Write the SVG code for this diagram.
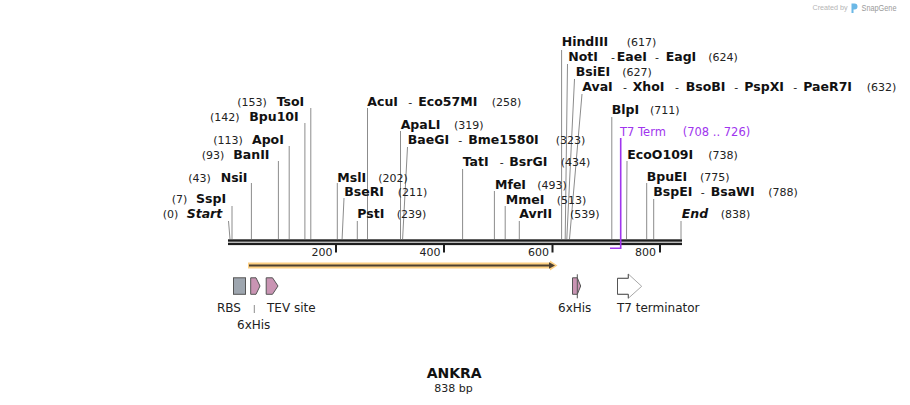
<svg xmlns="http://www.w3.org/2000/svg" width="910" height="405" viewBox="0 0 910 405">
<style>
  .site{stroke:#8c8c8c;stroke-width:1;fill:none}
  .en{font-family:"DejaVu Sans",Verdana,sans-serif;font-weight:bold;font-size:12.5px;fill:#111}
  .ei{font-family:"DejaVu Sans",Verdana,sans-serif;font-weight:bold;font-style:italic;font-size:12.5px;fill:#111}
  .num{font-family:"DejaVu Sans",Verdana,sans-serif;font-size:11px;fill:#222}
  .tick{font-family:"DejaVu Sans",Verdana,sans-serif;font-size:11px;fill:#222;text-anchor:end}
  .flab{font-family:"DejaVu Sans",Verdana,sans-serif;font-size:12px;fill:#222}
  .feat{stroke:#555;stroke-width:1}
  .pink{fill:#c994b3}
</style>
<rect width="910" height="405" fill="#fff"/>

<!-- watermark -->
<g id="watermark">
  <text x="812.5" y="10" font-family="Liberation Sans, Arial, sans-serif" font-size="7.2" fill="#b5b5b5">Created by</text>
  <path d="M851.5,3.5 h3 a3,3 0 0 1 0,6 h-1 v3.5 h-2 z" fill="#6bb8e6"/>
  <text x="861.5" y="10.5" font-family="Liberation Sans, Arial, sans-serif" font-size="8.6" fill="#9a9a9a" textLength="35" lengthAdjust="spacingAndGlyphs">SnapGene</text>
</g>

<!-- connectors: site lines -->
<g id="connectors">
  <path class="site" d="M228.5,221 L230,239"/>
  <path class="site" d="M232,206 V239"/>
  <path class="site" d="M251.4,183 V239"/>
  <path class="site" d="M278.4,161 V239"/>
  <path class="site" d="M289.2,146 V239"/>
  <path class="site" d="M304.9,123 V239"/>
  <path class="site" d="M310.8,108 V239"/>
  <path class="site" d="M337.3,183 V239"/>
  <path class="site" d="M344,198 L342.1,239"/>
  <path class="site" d="M357.3,221 V239"/>
  <path class="site" d="M367.5,108 V239"/>
  <path class="site" d="M400.5,131 V239"/>
  <path class="site" d="M407.5,147 L402.6,239"/>
  <path class="site" d="M462.6,169 V239"/>
  <path class="site" d="M494.4,191 V239"/>
  <path class="site" d="M505.2,206 V239"/>
  <path class="site" d="M519.3,221 V239"/>
  <path class="site" d="M561.6,50 V239"/>
  <path class="site" d="M567.5,64 L565.2,239"/>
  <path class="site" d="M574.5,79 L566.8,239"/>
  <path class="site" d="M582,94 L569.5,239"/>
  <path class="site" d="M611.8,117 V239"/>
  <path class="site" d="M627,161 L626.5,239"/>
  <path class="site" d="M646.7,183 V239"/>
  <path class="site" d="M653.7,199 V239"/>
  <path class="site" d="M681,221 V239"/>
  <!-- 6xHis label leader -->
  <path class="site" d="M254.3,305 V313"/>
</g>

<!-- ruler -->
<g id="ruler">
  <rect x="228" y="239.3" width="454" height="2.4" fill="#1e1e1e"/>
  <rect x="228" y="242.7" width="454" height="2.4" fill="#1e1e1e"/>
  <rect x="335" y="245" width="2" height="7.5" fill="#1e1e1e"/>
  <rect x="443" y="245" width="2" height="7.5" fill="#1e1e1e"/>
  <rect x="551.5" y="245" width="2" height="7.5" fill="#1e1e1e"/>
  <rect x="659" y="245" width="2" height="7.5" fill="#1e1e1e"/>
  <text class="tick" x="332.5" y="256">200</text>
  <text class="tick" x="440.5" y="256">400</text>
  <text class="tick" x="549" y="256">600</text>
  <text class="tick" x="656" y="256">800</text>
</g>

<!-- T7 Term feature bracket -->
<g id="t7term">
  <path d="M610,248.3 H620.7 V138" fill="none" stroke="#a035ee" stroke-width="1.6"/>
  <text x="620" y="135.5" font-family="DejaVu Sans, Verdana, sans-serif" font-size="11.5" fill="#a035ee">T7 Term</text>
  <text x="682.7" y="135.5" font-family="DejaVu Sans, Verdana, sans-serif" font-size="11.5" fill="#a035ee">(708 .. 726)</text>
</g>

<!-- site labels -->
<g id="site-start"><text y="218.3"><tspan class="num" x="162.7">(0)</tspan><tspan class="ei" x="186.7">Start</tspan></text></g>
<g id="site-sspi"><text y="203"><tspan class="num" x="171.7">(7)</tspan><tspan class="en" x="196">SspI</tspan></text></g>
<g id="site-nsii"><text y="181.5"><tspan class="num" x="188.3">(43)</tspan><tspan class="en" x="220.7">NsiI</tspan></text></g>
<g id="site-banii"><text y="158.5"><tspan class="num" x="201.7">(93)</tspan><tspan class="en" x="233.3">BanII</tspan></text></g>
<g id="site-apoi"><text y="144"><tspan class="num" x="213.3">(113)</tspan><tspan class="en" x="252">ApoI</tspan></text></g>
<g id="site-bpu10i"><text y="120.7"><tspan class="num" x="210">(142)</tspan><tspan class="en" x="249.3">Bpu10I</tspan></text></g>
<g id="site-tsoi"><text y="106"><tspan class="num" x="237.3">(153)</tspan><tspan class="en" x="276.7">TsoI</tspan></text></g>
<g id="site-msli"><text y="181.5"><tspan class="en" x="337.3">MslI</tspan><tspan class="num" x="378.3">(202)</tspan></text></g>
<g id="site-beri"><text y="196"><tspan class="en" x="344.3">BseRI</tspan><tspan class="num" x="397.7">(211)</tspan></text></g>
<g id="site-psti"><text y="218.3"><tspan class="en" x="357.3">PstI</tspan><tspan class="num" x="396.7">(239)</tspan></text></g>
<g id="site-acui"><text y="106"><tspan class="en" x="367.3">AcuI</tspan><tspan class="num" x="408.3">-</tspan><tspan class="en" x="418.3">Eco57MI</tspan><tspan class="num" x="491.7">(258)</tspan></text></g>
<g id="site-apali"><text y="128.5"><tspan class="en" x="400.7">ApaLI</tspan><tspan class="num" x="454">(319)</tspan></text></g>
<g id="site-baegi"><text y="144"><tspan class="en" x="407.7">BaeGI</tspan><tspan class="num" x="458.3">-</tspan><tspan class="en" x="468.3">Bme1580I</tspan><tspan class="num" x="555.7">(323)</tspan></text></g>
<g id="site-tati"><text y="165.8"><tspan class="en" x="462.7">TatI</tspan><tspan class="num" x="499.7">-</tspan><tspan class="en" x="509.3">BsrGI</tspan><tspan class="num" x="560.7">(434)</tspan></text></g>
<g id="site-mfei"><text y="188.5"><tspan class="en" x="495">MfeI</tspan><tspan class="num" x="537.3">(493)</tspan></text></g>
<g id="site-mmei"><text y="203.5"><tspan class="en" x="505.7">MmeI</tspan><tspan class="num" x="556.7">(513)</tspan></text></g>
<g id="site-avrii"><text y="218.3"><tspan class="en" x="519.3">AvrII</tspan><tspan class="num" x="570">(539)</tspan></text></g>
<g id="site-hindiii"><text y="45.7"><tspan class="en" x="561.7">HindIII</tspan><tspan class="num" x="626.7">(617)</tspan></text></g>
<g id="site-noti"><text y="60.7"><tspan class="en" x="568.3">NotI</tspan><tspan class="num" x="611">-</tspan><tspan class="en" x="616.7">EaeI</tspan><tspan class="num" x="655">-</tspan><tspan class="en" x="665.7">EagI</tspan><tspan class="num" x="708.3">(624)</tspan></text></g>
<g id="site-bsiei"><text y="75.7"><tspan class="en" x="575.7">BsiEI</tspan><tspan class="num" x="622.3">(627)</tspan></text></g>
<g id="site-avai"><text y="90.7"><tspan class="en" x="582.3">AvaI</tspan><tspan class="num" x="623">-</tspan><tspan class="en" x="632.7">XhoI</tspan><tspan class="num" x="675">-</tspan><tspan class="en" x="685.7">BsoBI</tspan><tspan class="num" x="734.3">-</tspan><tspan class="en" x="744.3">PspXI</tspan><tspan class="num" x="793.3">-</tspan><tspan class="en" x="803.3">PaeR7I</tspan><tspan class="num" x="866.7">(632)</tspan></text></g>
<g id="site-blpi"><text y="113.5"><tspan class="en" x="611.7">BlpI</tspan><tspan class="num" x="650">(711)</tspan></text></g>
<g id="site-ecoo109i"><text y="158.5"><tspan class="en" x="627.3">EcoO109I</tspan><tspan class="num" x="708.3">(738)</tspan></text></g>
<g id="site-bpuei"><text y="180.8"><tspan class="en" x="646.7">BpuEI</tspan><tspan class="num" x="700">(775)</tspan></text></g>
<g id="site-bspei"><text y="195.5"><tspan class="en" x="653.3">BspEI</tspan><tspan class="num" x="700.7">-</tspan><tspan class="en" x="710.7">BsaWI</tspan><tspan class="num" x="768.3">(788)</tspan></text></g>
<g id="site-end"><text y="218.3"><tspan class="ei" x="681.7">End</tspan><tspan class="num" x="720.7">(838)</tspan></text></g>

<!-- ORF arrow -->
<g id="orf">
  <polygon points="248,262.5 550,262.5 550,260.5 557.5,265.5 550,270.5 550,268.5 248,268.5" fill="#fdd084"/>
  <line x1="249" y1="265.5" x2="551" y2="265.5" stroke="#4d4030" stroke-width="2.2"/>
  <polygon points="549,262.3 555,265.5 549,268.7" fill="#4d4030"/>
</g>

<!-- features -->
<g id="feat-rbs">
  <rect class="feat" x="233.5" y="277.8" width="12" height="16.5" fill="#9ea6af"/>
  <text class="flab" x="217" y="312">RBS</text>
</g>
<g id="feat-6xhis-1">
  <polygon class="feat pink" points="250.7,277.8 256,277.8 260,286 256,294.3 250.7,294.3"/>
  <text class="flab" x="237" y="328.5">6xHis</text>
</g>
<g id="feat-tev">
  <polygon class="feat pink" points="266.2,277.8 272.5,277.8 278,286 272.5,294.3 266.2,294.3"/>
  <text class="flab" x="267" y="312">TEV site</text>
</g>
<g id="feat-6xhis-2">
  <polygon class="feat pink" points="572.5,277.8 577.3,277.8 580.7,286 577.3,294.3 572.5,294.3"/>
  <line x1="577.3" y1="274.3" x2="577.3" y2="298.3" stroke="#555" stroke-width="1"/>
  <text class="flab" x="558" y="312">6xHis</text>
</g>
<g id="feat-t7terminator">
  <polygon points="617.5,278.3 628.3,278.3 628.3,274 641.7,286.3 628.3,298.3 628.3,294.3 617.5,294.3" fill="#fff" stroke="#a8a8a8" stroke-width="1"/>
  <path d="M628.3,274 V278.3 H617.5 V294.3 H628.3 V298.3" fill="none" stroke="#555" stroke-width="1"/>
  <text class="flab" x="617" y="312">T7 terminator</text>
</g>

<!-- title -->
<g id="title">
  <text x="454.2" y="378" text-anchor="middle" font-family="DejaVu Sans, Verdana, sans-serif" font-weight="bold" font-size="14" fill="#111">ANKRA</text>
  <text x="453.5" y="392.3" text-anchor="middle" font-family="DejaVu Sans, Verdana, sans-serif" font-size="11" fill="#222">838 bp</text>
</g>
</svg>
